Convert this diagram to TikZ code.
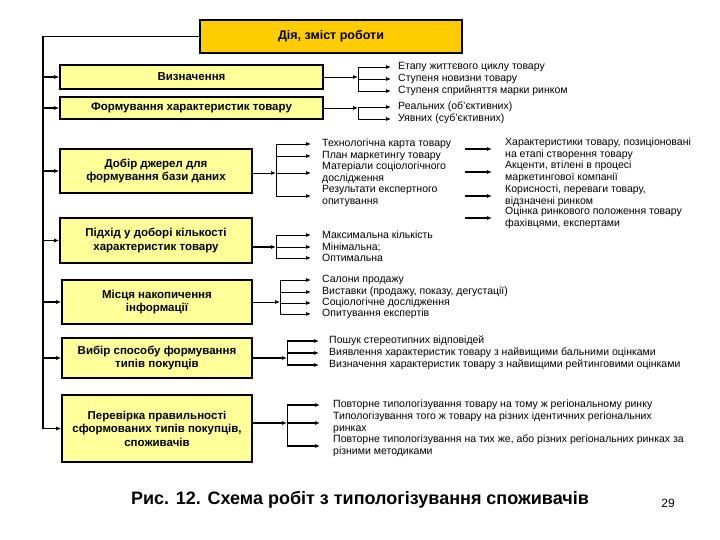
\documentclass[tikz,border=0pt]{standalone}
\usepackage{fontspec}
\setmainfont{Liberation Sans}
\usetikzlibrary{arrows.meta}
\definecolor{gold}{RGB}{255,204,0}
\definecolor{paleyel}{RGB}{255,255,153}
\tikzset{
  stagebox/.style={draw,line width=1.6pt,fill=paleyel,align=center,inner sep=0pt,
    font=\bfseries\fontsize{11.5}{13.5}\selectfont},
  itemtxt/.style={anchor=west,inner sep=0pt,align=left,font=\fontsize{10.5}{11.7}\selectfont},
  arr/.style={-{Latex[length=5pt,width=4pt]},line width=0.8pt},
  brk/.style={line width=0.8pt}
}
\begin{document}
\begin{tikzpicture}[x=1pt,y=-1pt]
        \useasboundingbox (0,0) rectangle (720,540);
        % boxes
        \node [draw,line width=1.6pt,fill=gold,minimum width=262pt,minimum height=33pt,inner sep=0pt,font=\bfseries\fontsize{12.5}{14}\selectfont] (top) at (331,36.5) {Дія, зміст роботи};
        \node [stagebox,minimum width=263pt,minimum height=24pt] (b1) at (191.5,77) {Визначення};
        \node [stagebox,minimum width=263pt,minimum height=22pt] (b2) at (191.5,108) {Формування характеристик товару};
        \node [stagebox,minimum width=192pt,minimum height=44pt] (b3) at (156,171) {Добір джерел для\\формування бази даних};
        \node [stagebox,minimum width=192pt,minimum height=45pt] (b4) at (156,240.5) {Підхід у доборі кількості\\характеристик товару};
        \node [stagebox,minimum width=190pt,minimum height=44pt] (b5) at (157,302) {Місця накопичення\\інформації};
        \node [stagebox,minimum width=190pt,minimum height=40pt] (b6) at (157,358) {Вибір способу формування\\типів покупців};
        \node [stagebox,minimum width=190pt,minimum height=67pt] (b7) at (157,428.5) {Перевірка правильності\\сформованих типів покупців,\\споживачів};

        % spine
        \coordinate (sp) at (43,36.5);
        \draw [line width=1.6pt] (top.west) -- (sp) -- (sp |- b7.west);
        \foreach \b in {b1,b2,b3,b4,b5,b6,b7}
          \draw [arr,line width=1.2pt] (sp |- \b.west) -- (\b.west);

        % texts
        \node [itemtxt] (t11) at (398,67) {Етапу життєвого циклу товару};
        \node [itemtxt] (t12) at (398,79) {Ступеня новизни товару};
        \node [itemtxt] (t13) at (398,91) {Ступеня сприйняття марки ринком};
        \node [itemtxt] (t21) at (398,107) {Реальних (об'єктивних)};
        \node [itemtxt] (t22) at (398,119) {Уявних (суб'єктивних)};
        \node [itemtxt] (t31) at (322,144) {Технологічна карта товару};
        \node [itemtxt] (t32) at (322,156) {План маркетингу товару};
        \node [itemtxt] (t33) at (322,173) {Матеріали соціологічного\\дослідження};
        \node [itemtxt] (t34) at (322,196) {Результати експертного\\опитування};
        \node [itemtxt] (c1) at (505,149) {Характеристики товару, позиціоновані\\на етапі створення товару};
        \node [itemtxt] (c2) at (505,172) {Акценти, втілені в процесі\\маркетингової компанії};
        \node [itemtxt] (c3) at (505,196) {Корисності, переваги товару,\\відзначені ринком};
        \node [itemtxt] (c4) at (505,218) {Оцінка ринкового положення товару\\фахівцями, експертами};
        \node [itemtxt] (t41) at (322,235) {Максимальна кількість};
        \node [itemtxt] (t42) at (322,247) {Мінімальна;};
        \node [itemtxt] (t43) at (322,258) {Оптимальна};
        \node [itemtxt] (t51) at (322,280) {Салони продажу};
        \node [itemtxt] (t52) at (322,292) {Виставки (продажу, показу, дегустації)};
        \node [itemtxt] (t53) at (322,303) {Соціологічне дослідження};
        \node [itemtxt] (t54) at (322,314) {Опитування експертів};
        \node [itemtxt] (t61) at (329,341) {Пошук стереотипних відповідей};
        \node [itemtxt] (t62) at (329,353) {Виявлення характеристик товару з найвищими бальними оцінками};
        \node [itemtxt] (t63) at (329,365) {Визначення характеристик товару з найвищими рейтинговими оцінками};
        \node [itemtxt] (t71) at (333,405) {Повторне типологізування товару на тому ж регіональному ринку};
        \node [itemtxt] (t72) at (333,423) {Типологізування того ж товару на різних ідентичних регіональних\\ринках};
        \node [itemtxt] (t73) at (333,446) {Повторне типологізування на тих же, або різних регіональних ринках за\\різними методиками};

        % brackets
        \coordinate (k1) at (358,0);\coordinate (k3) at (276,0);\coordinate (k5) at (280,0);\coordinate (k6) at (287,0);\coordinate (q) at (465,0);
        \draw [arr] (b1.east) -- (k1 |- b1.east);\draw [brk] (k1 |- t11.west) -- (k1 |- t13.west);
        \draw [arr] (b2.east) -- (k1 |- b2.east);\draw [brk] (k1 |- t21.west) -- (k1 |- t22.west);
        \draw [arr] (b3.east |- t33.west) -- (k3 |- t33.west);\draw [brk] (k3 |- t31.west) -- (k3 |- t34.west);
        \draw [arr,line width=1.2pt] (b4.east |- t42.west) -- (k3 |- t42.west);\draw [brk] (k3 |- t41.west) -- (k3 |- t43.west);
        \draw [arr] (b5.east) -- (k5 |- b5.east);\draw [brk] (k5 |- t51.west) -- (k5 |- t54.west);
        \draw [arr,line width=1.2pt] (b6.east) -- (k6 |- b6.east);\draw [brk] (k6 |- t61.west) -- (k6 |- t63.west);
        \draw [arr,line width=1.2pt] (b7.east |- t72.west) -- (k6 |- t72.west);\draw [brk] (k6 |- t71.west) -- (k6 |- t73.west);

        % arrows to texts
        \foreach \t in {t11,t12,t13,t21,t22}
          \draw [arr,shorten >=7pt] (k1 |- \t.west) -- (\t.west);
        \foreach \t in {t31,t32,t33,t34,t41,t42,t43}
          \draw [arr,shorten >=11pt] (k3 |- \t.west) -- (\t.west);
        \foreach \t in {t51,t52,t53,t54}
          \draw [arr,shorten >=11pt] (k5 |- \t.west) -- (\t.west);
        \foreach \t in {t61,t62,t63}
          \draw [arr,line width=1.2pt,shorten >=10pt] (k6 |- \t.west) -- (\t.west);
        \foreach \t in {t71,t72,t73}
          \draw [arr,line width=1.2pt,shorten >=13pt] (k6 |- \t.west) -- (\t.west);
        \foreach \t in {c1,c2,c3,c4}
          \draw [arr,line width=1.2pt,shorten >=13pt] (q |- \t.west) -- (\t.west);

        % caption
        \node [font=\bfseries\fontsize{18}{21}\selectfont] (cap) at (360,500) {Рис. 12. Схема робіт з типологізування споживачів};
        \node [font=\fontsize{12}{14}\selectfont] (pg) at (668,503) {29};
\end{tikzpicture}
\end{document}
